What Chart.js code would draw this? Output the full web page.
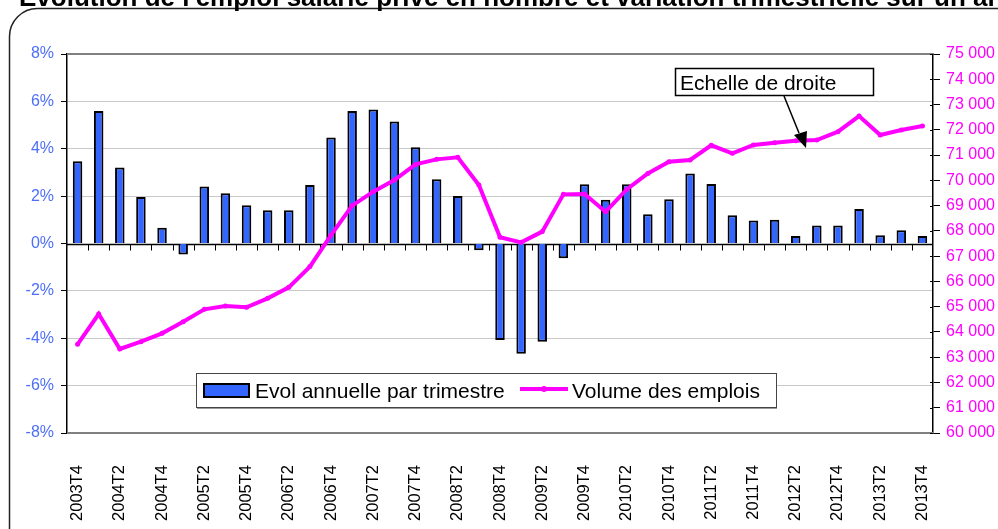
<!DOCTYPE html>
<html><head><meta charset="utf-8">
<script src="https://cdn.jsdelivr.net/npm/chart.js@4.4.1/dist/chart.umd.min.js"></script>
<style>html,body{margin:0;padding:0;background:#fff;overflow:hidden}#wrap{position:relative;width:998px;height:529px}</style>
</head><body><div id="wrap"><canvas id="c" width="998" height="529"></canvas></div>
<script>
const quarters = ["2003T4","2004T1","2004T2","2004T3","2004T4","2005T1","2005T2","2005T3","2005T4","2006T1","2006T2","2006T3","2006T4","2007T1","2007T2","2007T3","2007T4","2008T1","2008T2","2008T3","2008T4","2009T1","2009T2","2009T3","2009T4","2010T1","2010T2","2010T3","2010T4","2011T1","2011T2","2011T3","2011T4","2012T1","2012T2","2012T3","2012T4","2013T1","2013T2","2013T3","2013T4"];
const evolAnnuelle = [3.47,5.59,3.21,1.96,0.66,-0.46,2.41,2.12,1.61,1.40,1.40,2.47,4.48,5.59,5.66,5.15,4.06,2.71,2.01,-0.28,-4.07,-4.65,-4.15,-0.62,2.50,1.85,2.50,1.24,1.87,2.96,2.51,1.19,0.97,1.00,0.32,0.76,0.76,1.46,0.35,0.56,0.32];
const volumeEmplois = [63510,64710,63325,63615,63945,64405,64895,65025,64975,65330,65765,66585,67835,69000,69550,70010,70630,70830,70910,69815,67745,67545,67970,69445,69460,68760,69640,70275,70740,70805,71385,71070,71400,71490,71570,71595,71925,72545,71795,71990,72150];
const leftTicks = [-8,-6,-4,-2,0,2,4,6,8];
const titleText = "Evolution de l'emploi salarié privé en nombre et variation trimestrielle sur un an";
const seriesNames = ["Evol annuelle par trimestre","Volume des emplois"];
const noteText = "Echelle de droite";

const FONT = '"Liberation Sans", Arial, sans-serif';
const BLUE = '#3366ff', MAG = '#ff00ff';

const decor = {
  id:'decor',
  beforeDraw(chart){
    const ctx = chart.ctx;
    ctx.save();
    ctx.fillStyle='#fff'; ctx.fillRect(0,0,chart.width,chart.height);
    ctx.strokeStyle='#222'; ctx.lineWidth=1.5;
    ctx.beginPath(); ctx.roundRect(9.5,8.5,1040,560,28); ctx.stroke();
    ctx.fillStyle='#000'; ctx.font='bold 26px '+FONT; ctx.textBaseline='alphabetic'; ctx.textAlign='left';
    ctx.fillText(titleText,19,6);
    ctx.restore();
  },
  beforeDatasetsDraw(chart){
    const ctx=chart.ctx, a=chart.chartArea, x=chart.scales.x, y=chart.scales.y;
    ctx.save();
    ctx.strokeStyle='#808080'; ctx.lineWidth=2;
    ctx.beginPath(); ctx.moveTo(a.left,a.top); ctx.lineTo(a.right,a.top);
    ctx.moveTo(a.left,a.bottom); ctx.lineTo(a.right,a.bottom); ctx.stroke();
    const y0=Math.round(y.getPixelForValue(0))+0.5;
    ctx.strokeStyle='#000'; ctx.lineWidth=1.5;
    ctx.beginPath(); ctx.moveTo(a.left,y0); ctx.lineTo(a.right,y0); ctx.stroke();
    ctx.lineWidth=1;
    const n=quarters.length;
    for(let i=1;i<n;i++){
      const xb=Math.round((x.getPixelForValue(i-1)+x.getPixelForValue(i))/2)+0.5;
      ctx.beginPath(); ctx.moveTo(xb,y0); ctx.lineTo(xb,y0+6); ctx.stroke();
    }
    const y2=chart.scales.y2;
    ctx.strokeStyle='#000';
    for(let v=60000; v<=75000; v+=1000){
      const yy=Math.round(y2.getPixelForValue(v))+0.5;
      ctx.beginPath(); ctx.moveTo(a.right-3,yy); ctx.lineTo(a.right,yy); ctx.stroke();
    }
    ctx.restore();
  },
  afterDraw(chart){
    const ctx=chart.ctx;
    ctx.save();
    ctx.fillStyle='#fff'; ctx.strokeStyle='#444'; ctx.lineWidth=1;
    ctx.fillRect(196.5,373.5,580,34); ctx.strokeRect(196.5,373.5,580,34);
    ctx.strokeStyle='#999'; ctx.beginPath(); ctx.moveTo(197,408.5); ctx.lineTo(777,408.5); ctx.stroke();
    ctx.fillStyle=BLUE; ctx.strokeStyle='#000'; ctx.lineWidth=2;
    ctx.fillRect(204,384,45,13); ctx.strokeRect(204,384,45,13);
    ctx.fillStyle='#000'; ctx.font='21px '+FONT; ctx.textBaseline='alphabetic';
    ctx.fillText(seriesNames[0],255,398);
    ctx.strokeStyle=MAG; ctx.lineWidth=4; ctx.beginPath(); ctx.moveTo(520,389); ctx.lineTo(568,389); ctx.stroke();
    ctx.fillStyle=MAG; ctx.beginPath(); ctx.arc(544,389,3,0,Math.PI*2); ctx.fill();
    ctx.fillStyle='#000'; ctx.fillText(seriesNames[1],572,398);
    ctx.fillStyle='#fff'; ctx.strokeStyle='#000'; ctx.lineWidth=1.5;
    ctx.fillRect(675.5,68.5,198,27); ctx.strokeRect(675.5,68.5,198,27);
    ctx.fillStyle='#000'; ctx.font='21px '+FONT; ctx.fillText(noteText,680,90);
    ctx.lineWidth=1.5; ctx.beginPath(); ctx.moveTo(784,96); ctx.lineTo(799,133); ctx.stroke();
    ctx.beginPath(); ctx.moveTo(794,135); ctx.lineTo(807,131); ctx.lineTo(806,148); ctx.closePath(); ctx.fill();
    ctx.restore();
  }
};

new Chart(document.getElementById('c'), {
  data:{
    labels:quarters,
    datasets:[
      {type:'line',label:seriesNames[1],data:volumeEmplois,yAxisID:'y2',borderColor:MAG,backgroundColor:MAG,borderWidth:4,pointRadius:2.5,pointBackgroundColor:MAG,pointBorderWidth:0,tension:0,order:0},
      {type:'bar',label:seriesNames[0],data:evolAnnuelle,yAxisID:'y',backgroundColor:BLUE,borderColor:'#000',borderWidth:2,barPercentage:0.45,categoryPercentage:1,order:1}
    ]
  },
  options:{
    responsive:false,animation:false,devicePixelRatio:1,
    layout:{padding:{top:54,left:0,right:0,bottom:0}},
    plugins:{legend:{display:false},tooltip:{enabled:false}},
    scales:{
      x:{offset:true,grid:{display:false,drawTicks:false},border:{display:false},
         ticks:{autoSkip:false,minRotation:90,maxRotation:90,padding:32,color:'#000',font:{size:16.5,family:FONT},
                callback:(v,i)=> i%2===0?quarters[i]:''},
         afterFit(s){s.height=96;}},
      y:{position:'left',min:-8,max:8,
         grid:{color:(c)=> (c.tick.value===0||Math.abs(c.tick.value)===8)?'rgba(0,0,0,0)':'#c8c8c8',lineWidth:1,tickLength:6,tickColor:'#000'},
         border:{display:true,color:'#000',width:1.5},
         ticks:{stepSize:2,color:'#4d6ff7',padding:7,font:{size:16,family:FONT},callback:v=>v+'%'},
         afterBuildTicks(s){s.ticks=leftTicks.map(v=>({value:v}));},
         afterFit(s){s.width=67;}},
      y2:{position:'right',min:60000,max:75000,
         grid:{drawOnChartArea:false,tickLength:7,tickColor:'#000'},
         border:{display:true,color:'#000',width:1.5},
         ticks:{stepSize:1000,color:MAG,padding:6,font:{size:16,family:FONT},callback:v=>String(v).replace(/(\d+)(\d{3})$/,'$1 $2')},
         afterFit(s){s.width=65;}}
    }
  },
  plugins:[decor]
});
</script></body></html>
